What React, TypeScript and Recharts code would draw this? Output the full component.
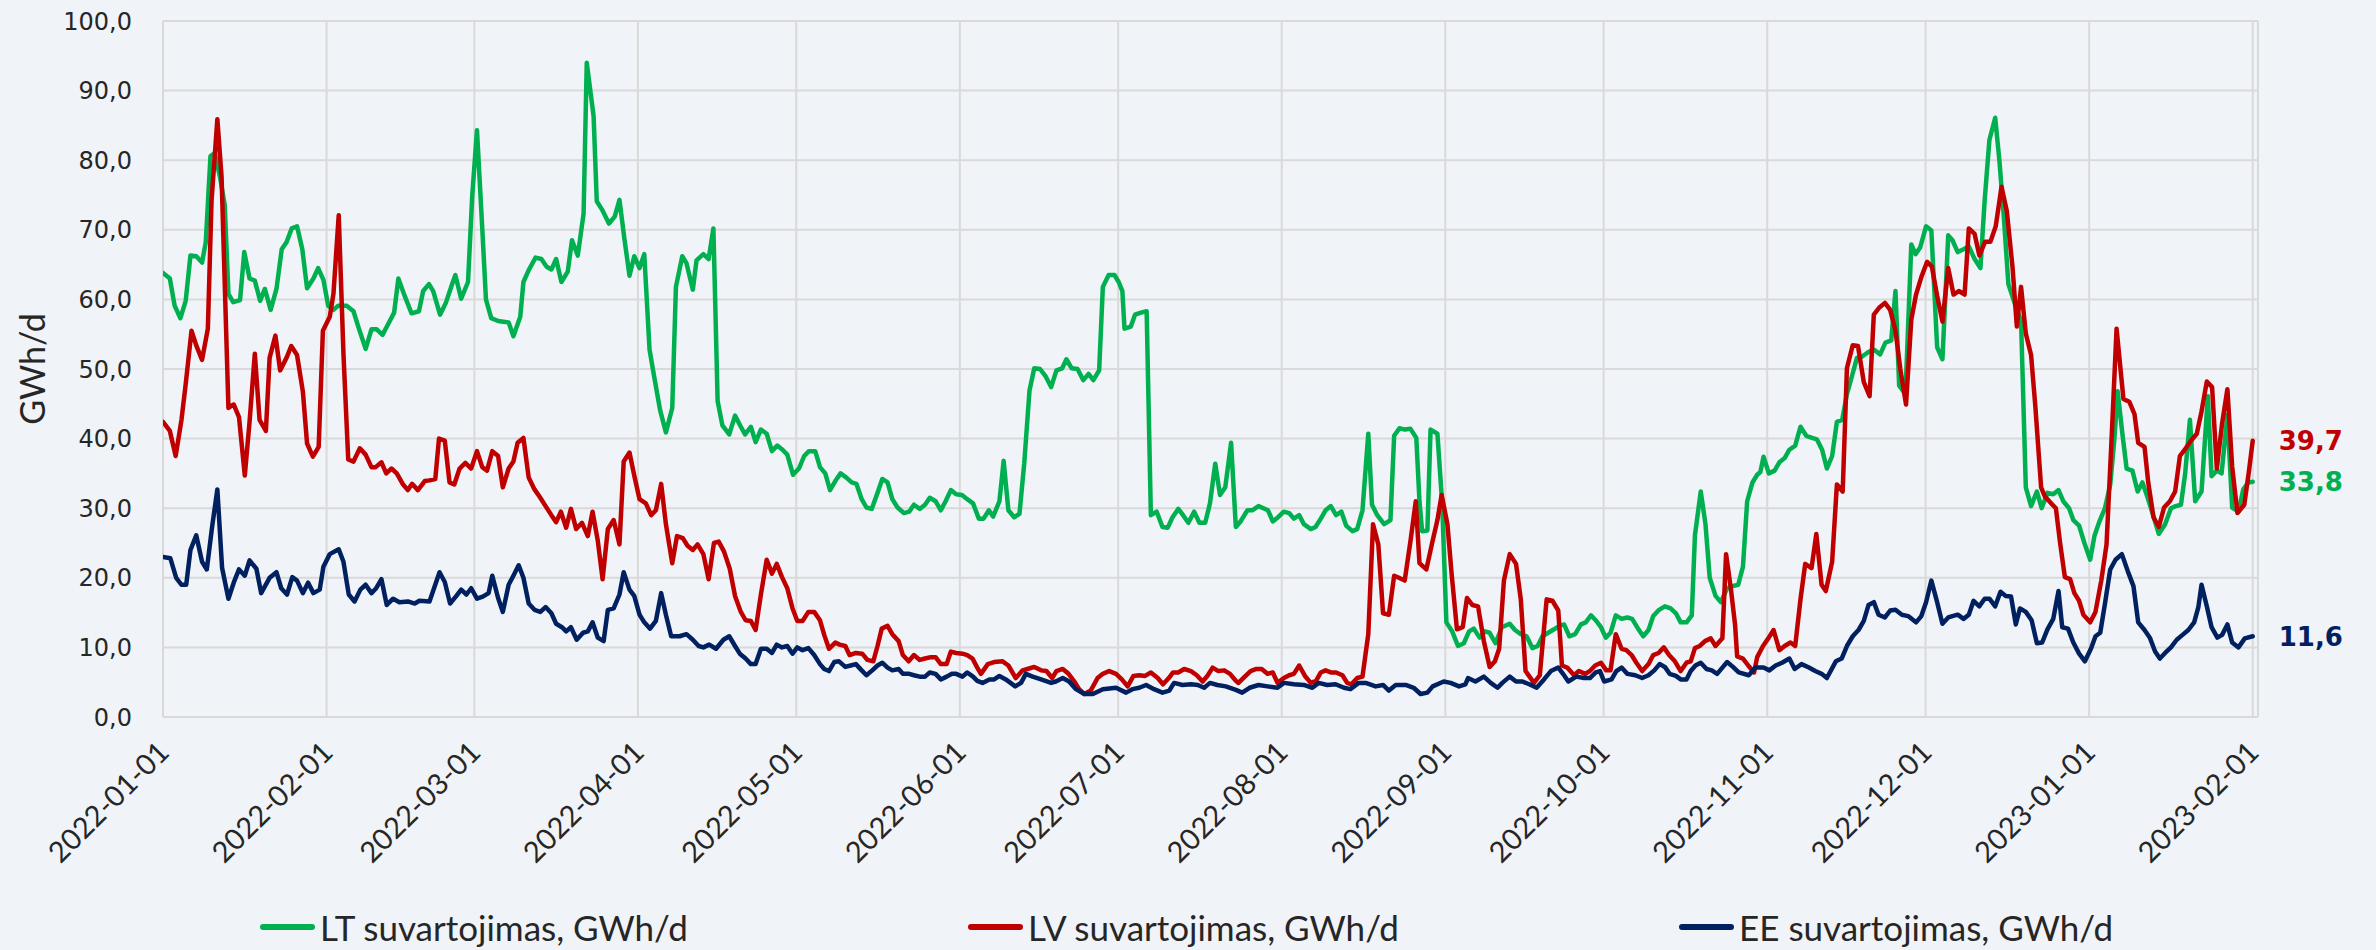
import React from 'react';
import { LineChart, Line, XAxis, YAxis, CartesianGrid, Legend, LabelList, Label } from 'recharts';

// ---- categories / ticks ----
const START_DATE = '2022-01-01';
const MONTH_TICKS = [
  '2022-01-01', '2022-02-01', '2022-03-01', '2022-04-01', '2022-05-01', '2022-06-01', '2022-07-01',
  '2022-08-01', '2022-09-01', '2022-10-01', '2022-11-01', '2022-12-01', '2023-01-01', '2023-02-01',
];
const Y_TICKS = [0, 10, 20, 30, 40, 50, 60, 70, 80, 90, 100];

const SERIES_NAMES = ['LT suvartojimas, GWh/d', 'LV suvartojimas, GWh/d', 'EE suvartojimas, GWh/d'];

// ---- series values: [days since 2022-01-01, GWh/d] ----
const LT: [number, number][] = [[0,63.8],[1.3,63],[2.2,59.1],[3.3,57.3],[4.3,59.8],[5.2,66.3],[6.3,66.2],[7.4,65.3],[8.1,68.2],[9,80.6],[9.8,81],[10.8,77.6],[11.7,73.5],[12.4,60.8],[13.3,59.6],[14.6,59.9],[15.4,66.8],[16.4,63],[17.4,62.7],[18.4,59.8],[19.3,61.5],[20.4,58.5],[21.5,61.5],[22.5,67.2],[23.4,68.2],[24.4,70.2],[25.4,70.5],[26.4,67.2],[27.3,61.6],[28.5,63],[29.4,64.5],[30.4,62.8],[31.3,59.1],[32.3,58.5],[33.2,59.1],[34.8,59.1],[36.1,58.3],[37,56.1],[38.4,52.9],[39.5,55.7],[40.5,55.7],[41.6,54.9],[42.7,56.5],[43.8,58.1],[44.6,63],[45.8,60.5],[47.1,58],[48.5,58.3],[49.3,61.2],[50.4,62.2],[51.2,61.2],[52.5,57.8],[53.6,59.5],[54.7,62],[55.4,63.5],[56.5,60.1],[57.8,62.5],[58.6,74.9],[59.5,84.3],[60.5,70.2],[61.2,60],[62.2,57.3],[63.5,56.9],[64.5,56.8],[65.5,56.7],[66.4,54.7],[67.7,57.5],[68.3,62.5],[69.3,64.2],[70.6,66],[71.7,65.8],[72.7,64.7],[73.6,64.3],[74.5,65.8],[75.5,62.5],[76.7,64],[77.5,68.5],[78.6,66.3],[79.7,72.3],[80.3,94],[81.6,86.3],[82.2,74.1],[83.2,72.9],[84.5,70.9],[85.6,71.9],[86.5,74.3],[87.4,68.9],[88.4,63.4],[89.3,66.2],[90.3,64.5],[91.2,66.5],[92.2,52.8],[93.1,48.8],[94.2,44.1],[95.3,40.9],[96.5,44.4],[97.2,61.8],[98.4,66.2],[99.2,65.2],[100.4,61.4],[101.1,65.6],[102.4,66.5],[103.4,65.8],[104.3,70.2],[105.1,45.4],[106,41.9],[107.3,40.6],[108.4,43.3],[109.5,41.7],[110.3,40.6],[111.4,41.7],[112.3,39.5],[113.3,41.3],[114.4,40.7],[115.4,38.2],[116.4,39],[117.4,38.4],[118.3,37.7],[119.4,34.8],[120.5,35.7],[121.5,37.5],[122.4,38.2],[123.6,38.2],[124.5,35.9],[125.5,35],[126.4,32.6],[127.4,33.9],[128.4,35],[129.5,34.4],[130.5,33.7],[131.4,33.5],[132.4,31.3],[133.3,30.1],[134.3,29.9],[135.4,32.2],[136.3,34.2],[137.3,33.7],[138.2,31.3],[139.2,30.1],[140.4,29.3],[141.4,29.5],[142.3,30.5],[143.4,29.9],[144.4,30.5],[145.3,31.5],[146.4,31],[147.4,29.7],[148.3,31],[149.3,32.6],[150.3,32],[151.4,31.9],[152.4,31.3],[153.5,30.7],[154.6,28.5],[155.5,28.5],[156.5,29.7],[157.3,28.8],[158.5,31],[159.3,36.8],[160.2,29.7],[161.3,28.7],[162.3,29.2],[163.2,36.4],[164.2,46.9],[165.1,50.1],[166.2,50],[167.3,48.9],[168.3,47.4],[169.3,49.8],[170.4,50.1],[171.2,51.4],[172.2,50.1],[173.3,50],[174.4,48.4],[175.4,49.3],[176.3,48.4],[177.4,49.8],[178.1,61.8],[179.2,63.5],[180.3,63.5],[181.1,62.5],[181.8,61.2],[182.2,55.8],[183.4,56.1],[184.2,57.8],[185.3,58.1],[186.4,58.3],[187.2,29],[188.3,29.5],[189.4,27.3],[190.4,27.2],[191.3,28.7],[192.4,29.9],[193.3,29],[194.3,27.9],[195.4,29.5],[196.4,27.9],[197.5,27.9],[198.4,30.7],[199.4,36.4],[200.3,31.9],[201.3,33],[202.4,39.4],[203.3,27.3],[204.2,28.1],[205.5,29.7],[206.4,29.7],[207.6,30.3],[209.4,29.7],[210.3,28.1],[211.3,28.7],[212.4,29.5],[213.4,29.3],[214.3,28.5],[215.3,29],[216.2,27.7],[217.5,27],[218.4,27.3],[219.4,28.5],[220.3,29.7],[221.3,30.3],[222.3,29],[223.3,29.5],[224.2,27.5],[225.4,26.7],[226.3,27],[227.3,29.7],[228.4,40.7],[229.1,30.5],[230.1,29],[231.4,27.7],[232.6,28.3],[233.3,40.4],[234.3,41.5],[235.3,41.3],[236.4,41.4],[237.5,40.1],[238.1,31],[238.6,26.7],[239.6,26.8],[240.2,41.3],[241.5,40.7],[242.4,30.7],[243.2,13.6],[244.3,12.3],[245.4,10.2],[246.5,10.6],[247.5,12.3],[248.4,12.7],[249.5,11.4],[250.5,12.3],[251.4,12.1],[252.5,10.6],[253.7,12.9],[255.2,13.4],[256.2,12.5],[257.3,11.9],[258.4,11.6],[259.5,9.9],[260.5,10.2],[261.4,11.6],[262.5,12.1],[263.6,12.6],[264.6,13.1],[265.5,13.3],[266.5,11.6],[267.6,11.9],[268.7,13.3],[269.6,13.6],[270.6,14.6],[271.5,13.9],[272.5,12.9],[273.4,11.4],[274.3,12.1],[275.3,14.6],[276.4,14.1],[277.5,14.3],[278.4,14.1],[279.6,12.6],[280.5,11.6],[281.5,12.5],[282.4,14.5],[283.5,15.4],[284.6,15.9],[285.7,15.6],[286.7,14.9],[287.6,13.6],[288.7,13.6],[289.7,14.6],[290.3,26.1],[291.4,32.4],[292.3,27.7],[293.1,20],[294.2,17.4],[295.2,16.5],[296.4,18.5],[297.4,18.8],[298.5,19],[299.4,21.6],[300.2,31],[301.2,33.7],[302.1,34.8],[302.7,35.2],[303.3,37.4],[304.3,35],[305.4,35.4],[306.3,36.6],[307.3,37.2],[308.2,38.4],[309.3,39],[310.3,41.7],[311.4,40.4],[312.5,40.1],[313.4,39.9],[314.4,38.4],[315.3,35.7],[316.3,37.5],[317.2,42.4],[318.2,42.7],[319.1,46.4],[320.1,49.1],[321,51.6],[322,51.8],[323.1,52.4],[324.2,52.8],[325.4,52.1],[326.4,53.8],[327.5,54.1],[328.3,61.2],[329,47.6],[330.2,46.4],[331.3,67.9],[332.1,66.5],[333,67.5],[334.1,70.5],[335.1,69.9],[336.2,53.1],[337.2,51.4],[338.3,69.2],[339.1,68.5],[340.1,66.8],[341.2,67.2],[342.2,67.6],[343.3,65.8],[344.4,64.5],[345.2,74.2],[346.1,82.9],[347.2,86.1],[348,79.9],[348.8,72.2],[349.7,62.2],[351.3,58.5],[352.1,56.9],[353,33],[354,30.3],[355.1,32.4],[356,30],[357.1,32.2],[358.2,32],[359.2,32.6],[360.1,31],[361.2,30],[362,28.3],[363.1,27.5],[364.1,25],[365.2,22.6],[366,26],[366.9,28],[368,30],[369,33.4],[369.8,40.1],[370.4,46.8],[371.3,40.7],[372.1,35.7],[373.2,35.4],[374.2,32.4],[375.1,33.7],[376.1,31.5],[377.2,28.8],[378.2,26.3],[379.4,27.7],[380.5,30],[381.4,30.3],[382.4,30.5],[383.2,35],[384.1,42.7],[385.1,31],[386.3,32.4],[387.5,46.1],[388.2,34.6],[389.2,35.4],[390.1,35],[391.2,43.4],[392.1,30.1],[393.3,29.5],[394.2,32.7],[395.2,33.7],[396,33.8]];

const LV: [number, number][] = [[0,42.4],[1.3,41.1],[2.4,37.5],[3.5,42.7],[4.3,47.8],[5.4,55.5],[6.3,53.4],[7.4,51.3],[8.5,55.8],[9.2,74.2],[10.3,85.9],[11.1,77.6],[12.4,44.4],[13.4,44.9],[14.4,43.1],[15.5,34.7],[16.4,42.4],[17.4,52.2],[18.3,42.7],[19.5,41.1],[20.2,51.6],[21.3,54.8],[22.2,49.8],[23.4,51.6],[24.3,53.3],[25.4,52],[26.5,46.8],[27.3,39.3],[28.4,37.4],[29.5,38.8],[30.3,55.5],[31.6,57.5],[32.3,60.8],[33.3,72.1],[34.2,52.1],[35.1,37],[36.1,36.7],[37.3,38.6],[38.4,37.7],[39.5,35.9],[40.3,35.9],[41.4,36.6],[42.3,35],[43.3,35.7],[44.3,35],[45.5,33.4],[46.4,32.6],[47.2,33.5],[48.3,32.6],[49.6,33.9],[50.5,34],[51.6,34.2],[52.3,40],[53.4,39.7],[54.3,33.7],[55.2,33.4],[56.2,35.7],[57.3,36.5],[58.4,35.7],[59.5,38.2],[60.5,35.9],[61.4,35.4],[62.4,38.2],[63.5,37.5],[64.4,33],[65.5,35.7],[66.4,36.7],[67.2,39.4],[68.3,40.1],[69.3,34.4],[70.4,32.7],[71.5,31.5],[72.5,30.3],[73.6,29],[74.5,28],[75.4,29.5],[76.4,27.2],[77.3,29.9],[78.3,27],[79.4,27.9],[80.5,26],[81.4,29.5],[82.4,25.3],[83.3,19.8],[84.3,27],[85.4,28.3],[86.5,24.8],[87.3,36.7],[88.4,38],[89.3,34.7],[90.3,31.3],[91.5,30.7],[92.5,29],[93.4,29.7],[94.4,33.5],[95.3,27.7],[96.5,22.1],[97.4,26],[98.5,25.7],[99.4,24.6],[100.4,24],[101.3,24.8],[102.4,23.4],[103.4,19.8],[104.4,25],[105.3,25.2],[106.3,23.8],[107.4,21.3],[108.4,17.4],[109.5,15.1],[110.4,13.9],[111.4,13.8],[112.3,12.5],[113.3,17.6],[114.4,22.6],[115.4,20.6],[116.3,22],[117.3,20.1],[118.3,18.5],[119.3,15.6],[120.2,13.8],[121.2,13.8],[122.3,15.1],[123.4,15.1],[124.5,13.9],[125.3,11.8],[126.2,9.8],[127.4,10.7],[128.2,10.4],[129.3,10.2],[130.1,8.9],[131.3,9.2],[132.5,9.1],[133.5,8.2],[134.6,8],[135.4,10.2],[136.2,12.7],[137.3,13.1],[138.2,11.9],[139.4,10.9],[140.2,8.9],[141.3,8],[142.3,8.9],[143.4,8.2],[144.4,8.4],[145.5,8.6],[146.4,8.6],[147.4,7.6],[148.5,7.6],[149.3,9.4],[150.3,9.2],[151.5,9.1],[152.4,8.9],[153.4,8.4],[154.3,7.1],[155,6.2],[156.3,7.6],[157.5,7.9],[159.1,8],[160.2,7.4],[161.6,5.6],[162.9,6.7],[163.8,6.9],[165.1,7.2],[166.4,6.7],[167.4,6.6],[168.5,5.6],[169.3,6.6],[170.5,6.9],[171.6,6.2],[172.7,5.1],[173.6,4],[174.6,3.3],[175.8,3.8],[177.1,5.6],[178.1,6.2],[179.3,6.6],[180.6,6.2],[181.7,5.4],[182.8,4.4],[183.9,5.9],[185,6],[186.1,5.9],[187.2,6.4],[188.5,5.6],[189.5,4.7],[190.6,5.6],[191.4,6.4],[192.4,6.4],[193.5,6.9],[194.8,6.6],[195.9,6],[197,5.1],[197.9,5.9],[198.9,7.1],[200,6.6],[201.1,6.7],[202.2,6.2],[203.3,5.2],[203.8,4.9],[205,5.8],[206.1,6.6],[207.2,6.9],[208.2,6.9],[209.3,6.2],[210.3,6.4],[211.2,4.9],[212.4,5.6],[213.4,6],[214.3,6.2],[215.3,7.4],[216.4,5.9],[217.5,4.9],[218.5,5.2],[219.4,6.4],[220.3,6.7],[221.3,6.4],[222.3,6.4],[223.5,6],[224.4,4.9],[225.2,4.7],[226.3,5.6],[227.3,5.8],[228.4,11.9],[229.3,27.7],[230.3,24.8],[231.2,14.9],[232.3,14.7],[233.3,20.3],[234.2,20],[235.3,19.6],[236.4,25.3],[237.4,31],[238.1,22.1],[239.4,21.2],[240.5,25],[241.5,28.3],[242.3,31.9],[243.4,27.7],[244.2,20.5],[245.2,12.6],[246.3,12.9],[247.1,17.1],[248.1,16.1],[249.2,15.9],[250.3,10.9],[251.4,7.2],[252.4,8],[253.2,9.8],[254.1,19.6],[255.2,23.4],[256.4,22],[257.3,16.9],[258.2,6.6],[259.8,4.9],[260.9,6],[262.2,16.9],[263.3,16.7],[264.4,15.3],[265.1,7.4],[266.1,7.1],[267.4,6],[268.3,6.6],[269.5,6.2],[270.4,6.6],[271.4,7.4],[272.5,7.8],[273.5,6.7],[274.3,6.7],[275.3,11.9],[276.4,9.8],[277.3,9.6],[278.3,8.9],[279.2,7.8],[280.3,6.6],[281.5,7.6],[282.4,8.9],[283.4,9.2],[284.4,10],[285.4,8.9],[286.5,8],[287.6,6.6],[288.7,7.8],[289.5,8],[290.3,9.9],[291.2,10.2],[292.2,10.9],[293.3,11.3],[294.2,10.2],[295.5,11.3],[296.2,23.4],[297.1,18.5],[297.9,13.3],[298.3,8.7],[299.4,8.4],[300.4,7.4],[301.5,6.4],[302.1,8.6],[303.2,10.2],[304.2,11.3],[305.2,12.5],[306.3,9.6],[307.3,10.2],[308.4,10.7],[309.3,10.2],[310.3,16.9],[311.2,22],[312.4,21.4],[313.3,26.3],[314.3,19],[315.1,18.1],[316.3,22.3],[317.2,33.4],[318.3,32.4],[319.1,50.1],[320.2,53.4],[321.2,53.3],[322.3,48.1],[323.4,46.1],[324.2,57.8],[325.2,58.8],[326.3,59.5],[327.3,58.5],[328.3,55.5],[329.2,50.1],[330.3,44.9],[331.3,57.1],[332.2,60.7],[333.2,63.2],[334.3,65.4],[335.2,64.7],[336.2,60.5],[337.2,56.8],[338.3,64.5],[339.3,60.7],[340.3,61.2],[341.4,60.7],[342.2,70.2],[343.3,69.4],[344.2,66.3],[345.3,68.3],[346.3,68.3],[347.3,70.5],[348.4,76.2],[349.4,72.7],[350.5,64.5],[351.3,56.1],[352.1,61.8],[353,55.1],[354,52],[354.8,44.7],[355.9,33],[356.6,31.7],[357.8,30.7],[358.7,30],[359.5,25],[360.4,20.1],[361.4,19.8],[362.2,17.8],[363.1,16.7],[363.9,14.7],[365.2,13.6],[366.2,15.1],[367.3,19.6],[368.3,24.8],[369.3,40.7],[370.2,55.8],[371.5,45.7],[372.6,45.3],[373.6,43.5],[374.3,39.4],[375.5,38.8],[376.2,33.7],[377.2,28.7],[378.2,27.3],[379.2,30.1],[380.3,31],[381.3,32.4],[382.2,37.5],[383.3,38.6],[384.3,39.7],[385.4,40.7],[386.3,43.9],[387.3,48.2],[388.3,47.4],[389.2,35.7],[390.2,42.2],[391.2,47.1],[392.1,36],[393.1,29.3],[394.4,30.5],[395.3,35.4],[396,39.7]];

const EE: [number, number][] = [[0,23],[1.4,22.8],[2.5,20],[3.5,19],[4.4,19],[5.2,24],[6.3,26.1],[7.4,22.3],[8.3,21.2],[9.3,27.3],[10.3,32.7],[11.2,21.4],[12.4,17],[13.4,19.3],[14.4,21.2],[15.5,20.3],[16.4,22.5],[17.7,21.3],[18.6,17.8],[20.2,20],[21.5,20.8],[22.4,18.5],[23.5,17.6],[24.5,20.1],[25.4,19.6],[26.5,17.8],[27.5,19.3],[28.5,17.8],[29.7,18.3],[30.4,21.6],[31.6,23.4],[33.3,24.1],[34.2,22.3],[35.2,17.6],[36.3,16.6],[37.4,18.3],[38.4,19],[39.5,17.8],[40.4,18.5],[41.4,19.8],[42.4,16.1],[43.6,17],[44.8,16.5],[46.4,16.6],[47.7,16.3],[48.6,16.7],[50.5,16.6],[52.4,20.8],[53.4,19.4],[54.4,16.3],[55.6,17.4],[56.5,18.3],[57.5,17.6],[58.4,18.5],[59.5,17],[60.6,17.3],[61.7,17.8],[62.4,20.3],[63.5,17.1],[64.4,15.1],[65.5,19],[66.4,20.3],[67.4,21.8],[68.3,20],[69.3,16.3],[70.4,15.4],[71.5,15.1],[72.5,15.8],[73.6,14.9],[74.5,13.4],[75.6,12.9],[76.4,12.3],[77.3,12.9],[78.4,11.1],[79.6,12.1],[80.5,12.3],[81.4,13.6],[82.4,11.4],[83.5,10.9],[84.3,15.4],[85.4,15.6],[86.5,17.6],[87.3,20.8],[88.4,18.3],[89.3,17.4],[90.3,14.7],[91.2,13.6],[92.3,12.7],[93.4,13.8],[94.4,17.8],[95.3,14.7],[96.3,11.6],[97.9,11.6],[99.2,11.9],[100.4,11.1],[101.5,10.2],[102.4,10],[103.5,10.4],[104.8,9.8],[106.2,11.1],[107.3,11.6],[108.4,10.2],[109.3,9.1],[110.4,8.4],[111.4,7.6],[112.3,7.6],[113.3,9.8],[114.4,9.8],[115.4,9.2],[116.3,10.4],[117.3,10],[118.3,10.2],[119.3,9.1],[120.2,10],[121.2,9.6],[122.3,9.9],[123.4,8.9],[124.5,7.6],[125.3,6.9],[126.2,6.6],[127.2,7.9],[128.1,8],[129.3,7.2],[130.3,7.4],[131.3,7.6],[132.4,6.7],[133.3,6],[134.4,6.7],[135.4,7.4],[136.3,7.8],[137.3,7.1],[138.2,6.7],[139.4,6.9],[140.2,6.2],[141.4,6.2],[142.3,6],[143.4,5.8],[144.4,5.8],[145.3,6.4],[146.4,6.2],[147.4,5.4],[148.5,5.8],[149.5,6.2],[150.3,6.2],[151.5,5.8],[152.4,6.4],[153.5,5.8],[154.3,5.2],[155.3,4.9],[156.6,5.4],[157.5,5.4],[158.5,5.9],[159.7,5.4],[161.5,4.4],[162.6,4.9],[163.5,6.2],[164.8,5.8],[166.4,5.4],[168.3,4.9],[169.2,5.1],[170.5,5.6],[171.7,5.1],[173,4],[174.6,3.3],[176.2,3.3],[178.1,4],[180.6,4.2],[182.5,3.5],[183.7,4],[185,4.2],[186.3,4.6],[187.8,4],[189.4,3.5],[190.7,3.8],[191.6,4.9],[193.2,4.6],[194.8,4.7],[196.1,4.6],[197.3,4.2],[198.4,4.9],[199.8,4.6],[201.4,4.4],[203.3,3.9],[204.5,3.5],[205.9,4.2],[207.6,4.6],[209.3,4.4],[211.2,4.2],[212.4,4.9],[214.3,4.7],[216.2,4.6],[217.8,4.2],[219,4.9],[220.6,4.6],[222.2,4.7],[223.8,4.2],[225,4],[226.6,4.9],[227.9,4.9],[229.8,4.4],[231.2,4.6],[232.3,3.8],[233.6,4.6],[235.5,4.6],[237,4.2],[238.3,3.3],[239.6,3.5],[240.6,4.4],[242.7,5.1],[244,4.9],[245.6,4.4],[246.8,4.7],[247.3,5.6],[248.7,5.1],[250.3,5.8],[251.6,4.9],[252.9,4.2],[253.8,4.9],[255.2,5.8],[256.4,5.1],[257.6,5.1],[258.9,4.7],[260.3,4.2],[261.7,5.4],[263,6.6],[264.4,7.1],[265.3,6.2],[266.3,5.1],[267.8,5.8],[269.3,5.6],[270.4,5.6],[271.5,6.4],[272.3,6.6],[273.1,5.1],[274.5,5.4],[275.4,6.6],[276.4,7.1],[277.5,6.2],[279,6],[280.3,5.6],[281.5,6],[282.6,6.7],[283.6,7.6],[284.6,7.2],[285.5,6.2],[286.7,5.9],[287.6,5.4],[288.7,5.4],[289.5,6.6],[290.4,7.4],[291.4,7.8],[292.5,6.9],[293.5,6.7],[294.5,6.2],[295.5,7.1],[296.4,7.9],[297.5,7.2],[298.6,6.4],[300.5,6],[301.8,7.1],[303.3,7.1],[304.4,6.7],[305.6,7.4],[306.8,7.8],[308.2,8.4],[309.2,6.9],[310.5,7.6],[311.9,7.1],[313.1,6.6],[314.3,6.2],[315.3,5.6],[317,8],[318.1,8.4],[319.1,10.2],[320.2,11.6],[321.3,12.5],[322.3,13.8],[323.2,16.1],[324.2,16.5],[325.1,14.7],[326.3,14.3],[327.3,15.3],[328.3,15.4],[329.5,14.7],[330.7,14.5],[332.2,13.6],[333.2,14.5],[334.1,16.5],[335.1,19.6],[336.2,16.5],[337.2,13.4],[338.3,14.3],[339.1,14.5],[340.1,14.7],[341.2,14.1],[342.2,14.7],[343.1,16.7],[344.2,15.9],[345.2,17],[346.1,17],[347.2,15.9],[348.2,18],[349.2,17.4],[350.2,17.3],[351.1,13.3],[351.9,15.6],[353,15.1],[354.1,13.9],[355.1,10.6],[356.1,10.7],[357.1,12.6],[358.2,14.1],[359.2,18.1],[359.9,12.9],[361,12.7],[362,10.7],[363.1,9.1],[364.2,8],[365.4,9.9],[366.2,11.6],[367.1,12.1],[368,16.3],[369,21.2],[370,22.6],[371.2,23.4],[372.3,21],[373.4,18.8],[374.3,13.6],[375.5,12.5],[376.5,11.4],[377.5,9.4],[378.4,8.4],[379.4,9.2],[380.5,10],[381.6,11.1],[382.7,11.8],[383.8,12.5],[384.9,13.6],[385.7,15.8],[386.3,19],[387.3,15.9],[388.2,12.9],[389.3,11.4],[390.2,11.8],[391.2,13.3],[392.1,10.7],[393.3,10],[394.5,11.3],[396,11.6]];

// ---- styles ----
const COLORS = ['#00B050', '#C00000', '#002060'];
const BG = '#F0F3F7';
const GRID = '#D9D9D9';
const TEXT = '#262626';
const NARROW = 'Lato, "Noto Sans", sans-serif';
const WIDE = '"DejaVu Sans", Verdana, sans-serif';
const LEGEND_X = [260, 968, 1679];

const DAY_MS = 86400000;
const startMs = Date.parse(START_DATE);
const tickDays = MONTH_TICKS.map((s) => Math.round((Date.parse(s) - startMs) / DAY_MS));
const lastDay = tickDays[tickDays.length - 1];

const toRows = (arr: [number, number][]) => arr.map(([d, v]) => ({ d, v }));
const seriesData = [toRows(LT), toRows(LV), toRows(EE)];

const fmt = (v: number) => v.toFixed(1).replace('.', ',');

const XTick = (props: any) => {
  const { x, y, payload } = props;
  const i = tickDays.indexOf(payload.value);
  const label = i >= 0 ? MONTH_TICKS[i] : '';
  const px = x + 8;
  const py = y + 37;
  return (
    <text x={px} y={py} textAnchor="end" transform={`rotate(-45 ${px} ${py})`}
      style={{ fontFamily: NARROW, fontSize: 29, fill: TEXT }}>{label}</text>
  );
};

const makeEndLabel = (color: string, count: number) => (props: any) => {
  const { x, y, index, value } = props;
  if (index !== count - 1) return <g />;
  return (
    <text x={x + 26} y={y} dy="0.36em" textAnchor="start"
      style={{ fontFamily: WIDE, fontSize: 26, fontWeight: 700, fill: color }}>{fmt(Number(value))}</text>
  );
};

const LegendContent = () => (
  <div style={{ position: 'relative', width: 2376, height: 60 }}>
    {SERIES_NAMES.map((name, i) => (
      <div key={name} style={{ position: 'absolute', left: LEGEND_X[i], top: 0, height: 60, display: 'flex', alignItems: 'center', whiteSpace: 'nowrap' }}>
        <span style={{ display: 'inline-block', width: 55, height: 6, background: COLORS[i], borderRadius: 3, marginRight: 5 }} />
        <span style={{ fontFamily: NARROW, fontSize: 35, color: TEXT, lineHeight: '60px' }}>{name}</span>
      </div>
    ))}
  </div>
);

export default function App() {
  return (
    <div style={{ position: 'absolute', left: 0, top: 0, width: 2376, height: 950, background: BG, overflow: 'hidden' }}>
      <LineChart width={2376} height={950} margin={{ top: 21, right: 118, left: 0, bottom: 0 }}>
        <CartesianGrid stroke={GRID} strokeWidth={2} />
        <XAxis type="number" dataKey="d" domain={[0, lastDay + 1]} ticks={tickDays} allowDataOverflow
          axisLine={false} tickLine={false} tickSize={0} tickMargin={0} height={233} tick={<XTick />} interval={0} />
        <YAxis type="number" domain={[0, 100]} ticks={Y_TICKS} width={163} axisLine={false} tickLine={false}
          tickSize={0} tickMargin={31} tickFormatter={fmt} interval={0}
          tick={{ fontFamily: WIDE, fontSize: 24, fill: TEXT }}>
          <Label content={() => (
            <text x={31} y={369} transform="rotate(-90 31 369)" textAnchor="middle" dominantBaseline="central"
              style={{ fontFamily: NARROW, fontSize: 34, fill: TEXT }}>GWh/d</text>
          )} />
        </YAxis>
        <Legend layout="vertical" align="center" verticalAlign="middle" content={<LegendContent />}
          wrapperStyle={{ left: 0, top: 897, width: 2376, height: 60 }} />
        {seriesData.map((rows, i) => (
          <Line key={SERIES_NAMES[i]} name={SERIES_NAMES[i]} data={rows} dataKey="v" type="linear"
            stroke={COLORS[i]} strokeWidth={4.5} dot={false} activeDot={false} strokeLinejoin="round" strokeLinecap="round"
            isAnimationActive={false}>
            <LabelList dataKey="v" content={makeEndLabel(COLORS[i], rows.length)} />
          </Line>
        ))}
      </LineChart>
    </div>
  );
}
